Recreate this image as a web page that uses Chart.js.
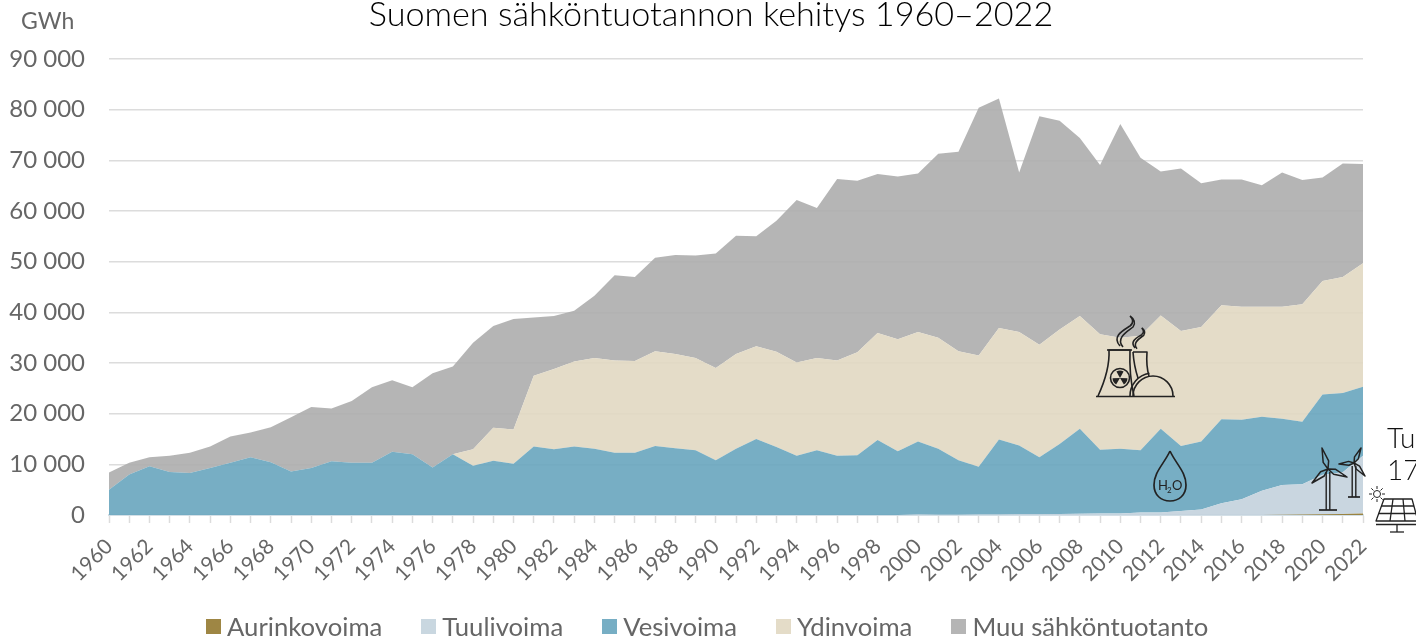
<!DOCTYPE html>
<html lang="fi">
<head>
<meta charset="utf-8">
<title>Suomen sähköntuotannon kehitys 1960–2022</title>
<script src="https://cdn.jsdelivr.net/npm/chart.js@4/dist/chart.umd.min.js"></script>
<style>
  html, body { margin: 0; background: #fff; overflow: hidden; }
  #wrap { position: relative; width: 1416px; height: 637px; }
  #legend { position: absolute; left: 206px; top: 611px; display: flex; gap: 39px;
    font: 400 25.7px Lato, sans-serif; color: #666; line-height: 30px; white-space: nowrap; }
  #legend span { display: flex; align-items: center; gap: 6px; }
  #legend i { display: block; width: 15px; height: 15px; }
</style>
</head>
<body>
<div id="wrap">
  <canvas id="chart" width="1416" height="637"></canvas>
  <div id="legend"></div>
</div>
<script>
const years = [
  1960, 1961, 1962, 1963, 1964, 1965, 1966, 1967, 1968, 1969,
  1970, 1971, 1972, 1973, 1974, 1975, 1976, 1977, 1978, 1979,
  1980, 1981, 1982, 1983, 1984, 1985, 1986, 1987, 1988, 1989,
  1990, 1991, 1992, 1993, 1994, 1995, 1996, 1997, 1998, 1999,
  2000, 2001, 2002, 2003, 2004, 2005, 2006, 2007, 2008, 2009,
  2010, 2011, 2012, 2013, 2014, 2015, 2016, 2017, 2018, 2019,
  2020, 2021, 2022
];

const aurinkovoima = [
  0, 0, 0, 0, 0, 0, 0, 0, 0, 0,
  0, 0, 0, 0, 0, 0, 0, 0, 0, 0,
  0, 0, 0, 0, 0, 0, 0, 0, 0, 0,
  0, 0, 0, 0, 0, 0, 0, 0, 0, 0,
  0, 0, 0, 0, 0, 0, 0, 0, 0, 0,
  0, 0, 0, 0, 0, 0, 0, 0, 30, 80,
  150, 220, 300
];

const tuulivoima = [
  0, 0, 0, 0, 0, 0, 0, 0, 0, 0,
  0, 0, 0, 0, 0, 0, 0, 0, 0, 0,
  0, 0, 0, 0, 0, 0, 0, 0, 0, 0,
  0, 0, 0, 0, 0, 0, 0, 0, 0, 0,
  80, 70, 60, 90, 120, 170, 150, 190, 260, 280,
  290, 480, 490, 770, 1100, 2300, 3100, 4800, 5900, 6000,
  7800, 8200, 11400
];

const vesivoima = [
  5000, 8000, 9600, 8500, 8300, 9300, 10300, 11400, 10400, 8600,
  9300, 10600, 10300, 10300, 12500, 12000, 9400, 12000, 9700, 10700,
  10100, 13500, 13000, 13500, 13100, 12300, 12300, 13600, 13200, 12800,
  10800, 13100, 15000, 13400, 11700, 12800, 11700, 11800, 14800, 12600,
  14420, 13030, 10740, 9410, 14780, 13530, 11250, 13810, 16740, 12620,
  12810, 12320, 16510, 12830, 13400, 16600, 15700, 14600, 13070, 12320,
  15850, 15680, 13600
];

const ydinvoima = [
  0, 0, 0, 0, 0, 0, 0, 0, 0, 0,
  0, 0, 0, 0, 0, 0, 0, 0, 3300, 6500,
  6800, 14000, 15800, 16800, 17900, 18200, 18100, 18700, 18600, 18200,
  18200, 18700, 18300, 18800, 18400, 18200, 18800, 20300, 21100, 22100,
  21600, 21900, 21500, 22000, 22000, 22400, 22200, 22600, 22300, 22800,
  21900, 22600, 22400, 22700, 22600, 22500, 22300, 21700, 22100, 23200,
  22400, 22900, 24400
];

const muuTuotanto = [
  3400, 2300, 1800, 3200, 4000, 4200, 5200, 4900, 6900, 10700,
  12000, 10400, 12200, 14900, 14100, 13200, 18600, 17300, 21000, 20100,
  21800, 11500, 10500, 10000, 12300, 16800, 16600, 18500, 19500, 20200,
  22600, 23300, 21700, 25900, 32100, 29600, 35800, 33900, 31400, 32100,
  31300, 36300, 39400, 48900, 45300, 31500, 45100, 41200, 35100, 33400,
  42200, 35100, 28400, 32100, 28400, 24800, 25100, 24000, 26500, 24500,
  20400, 22400, 19600
];

const seriesNames = ['Aurinkovoima', 'Tuulivoima', 'Vesivoima', 'Ydinvoima', 'Muu sähköntuotanto'];
const seriesValues = [aurinkovoima, tuulivoima, vesivoima, ydinvoima, muuTuotanto];
// fills are slightly see-through so the gridlines show, legend gets the colour as seen on white
const fillColors = ['rgba(147,121,47,.9)', 'rgba(195,210,221,.9)', 'rgba(104,165,190,.9)', 'rgba(225,216,194,.9)', 'rgba(173,173,173,.9)'];
const swatchColors = ['#9e8644', '#c9d7e0', '#77aec4', '#e4dcc8', '#b5b5b5'];

const fontFamily = 'Lato, sans-serif';
const tickColor = '#666';

function line(ctx, points) {
  ctx.beginPath();
  points.forEach((p, i) => i ? ctx.lineTo(p[0], p[1]) : ctx.moveTo(p[0], p[1]));
  ctx.stroke();
}

function drawSteam(ctx, x, y, s) {
  ctx.beginPath();
  ctx.moveTo(x, y);
  ctx.bezierCurveTo(x - 9 * s, y - 10 * s, x + 4 * s, y - 16 * s, x + 10 * s, y - 20 * s);
  ctx.bezierCurveTo(x + 14 * s, y - 23 * s, x + 13 * s, y - 27 * s, x + 10 * s, y - 30 * s);
  ctx.moveTo(x + 3 * s, y + s);
  ctx.bezierCurveTo(x - 5 * s, y - 8 * s, x + 8 * s, y - 15 * s, x + 13 * s, y - 19 * s);
  ctx.bezierCurveTo(x + 16 * s, y - 23 * s, x + 14 * s, y - 27 * s, x + 10 * s, y - 30 * s);
  ctx.stroke();
}

function drawNuclear(ctx) {
  ctx.lineWidth = 1.6;
  line(ctx, [[1096, 396.5], [1175, 396.5]]);
  // big tower
  ctx.beginPath();
  ctx.moveTo(1098, 396);
  ctx.quadraticCurveTo(1110, 370, 1109, 350);
  ctx.lineTo(1130, 350);
  ctx.quadraticCurveTo(1129, 375, 1134, 396);
  ctx.stroke();
  line(ctx, [[1107, 350], [1132, 350]]);
  // small tower
  ctx.beginPath();
  ctx.moveTo(1133, 352);
  ctx.lineTo(1147, 352);
  ctx.quadraticCurveTo(1146, 366, 1149, 376);
  ctx.moveTo(1133, 352);
  ctx.quadraticCurveTo(1134, 366, 1138, 378);
  ctx.stroke();
  // dome
  ctx.beginPath();
  ctx.arc(1153, 396, 20, Math.PI, 0);
  ctx.stroke();
  ctx.beginPath();
  ctx.arc(1153, 396, 23, Math.PI, Math.PI * 1.45);
  ctx.stroke();
  // radiation sign
  ctx.beginPath();
  ctx.arc(1120, 378, 9.5, 0, Math.PI * 2);
  ctx.stroke();
  [-Math.PI / 2, Math.PI / 6, Math.PI * 5 / 6].forEach(a => {
    ctx.beginPath();
    ctx.moveTo(1120, 378);
    ctx.arc(1120, 378, 7.5, a - 0.5, a + 0.5);
    ctx.closePath();
    ctx.fill();
  });
  drawSteam(ctx, 1120, 346, 1);
  drawSteam(ctx, 1135, 348, 0.67);
}

function drawDrop(ctx) {
  ctx.lineWidth = 1.7;
  ctx.beginPath();
  ctx.moveTo(1170, 451);
  ctx.bezierCurveTo(1164, 464, 1154, 472, 1154, 485);
  ctx.bezierCurveTo(1154, 495, 1161, 501, 1170, 501);
  ctx.bezierCurveTo(1179, 501, 1186, 495, 1186, 485);
  ctx.bezierCurveTo(1186, 472, 1176, 464, 1170, 451);
  ctx.stroke();
  ctx.textAlign = 'left';
  ctx.textBaseline = 'alphabetic';
  ctx.font = '400 13px ' + fontFamily;
  ctx.fillText('H', 1158, 490);
  ctx.fillText('O', 1172, 490);
  ctx.font = '400 8px ' + fontFamily;
  ctx.fillText('2', 1167, 493);
}

function drawBlade(ctx, hx, hy, tx, ty) {
  const mx = hx + (tx - hx) * 0.35;
  const my = hy + (ty - hy) * 0.35;
  const nx = -(ty - hy) * 0.13;
  const ny = (tx - hx) * 0.13;
  ctx.beginPath();
  ctx.moveTo(hx, hy);
  ctx.lineTo(mx + nx, my + ny);
  ctx.lineTo(tx, ty);
  ctx.lineTo(mx - nx, my - ny);
  ctx.closePath();
  ctx.stroke();
}

function drawTurbine(ctx, hx, hy, baseY, baseW, tips) {
  ctx.lineWidth = 1.4;
  line(ctx, [[hx - 1.8, hy + 3], [hx - 1.8, baseY]]);
  line(ctx, [[hx + 1.8, hy + 3], [hx + 1.8, baseY]]);
  ctx.lineWidth = 1.7;
  line(ctx, [[hx - baseW, baseY], [hx + baseW, baseY]]);
  ctx.lineWidth = 1.5;
  tips.forEach(t => drawBlade(ctx, hx, hy, t[0], t[1]));
}

function drawSolar(ctx) {
  // sun
  ctx.lineWidth = 1;
  ctx.beginPath();
  ctx.arc(1377, 494, 3.5, 0, Math.PI * 2);
  ctx.stroke();
  for (let i = 0; i < 8; i++) {
    const a = i * Math.PI / 4;
    line(ctx, [[1377 + 5 * Math.cos(a), 494 + 5 * Math.sin(a)], [1377 + 8 * Math.cos(a), 494 + 8 * Math.sin(a)]]);
  }
  // panel
  ctx.lineWidth = 1.3;
  ctx.beginPath();
  ctx.moveTo(1384, 499);
  ctx.lineTo(1412, 499);
  ctx.lineTo(1418, 521);
  ctx.lineTo(1376, 521);
  ctx.closePath();
  ctx.stroke();
  line(ctx, [[1376, 524.5], [1418, 524.5]]);
  line(ctx, [[1381, 506], [1414, 506]]);
  line(ctx, [[1378.5, 513.5], [1416, 513.5]]);
  line(ctx, [[1393, 499], [1390, 521]]);
  line(ctx, [[1403, 499], [1405, 521]]);
  line(ctx, [[1397, 525], [1397, 532]]);
  line(ctx, [[1390, 532], [1404, 532]]);
}

const extraText = {
  id: 'extraText',
  afterDraw(chart) {
    const ctx = chart.ctx;
    ctx.save();
    ctx.textBaseline = 'middle';
    ctx.textAlign = 'left';
    ctx.fillStyle = tickColor;
    ctx.font = '400 23px ' + fontFamily;
    ctx.fillText('GWh', 21, 22);
    ctx.fillStyle = '#111';
    ctx.font = '300 28px ' + fontFamily;
    ctx.fillText('Tu', 1387, 439);
    ctx.fillText('17', 1387, 471);

    ctx.strokeStyle = '#222';
    ctx.fillStyle = '#222';
    ctx.lineJoin = 'round';
    drawNuclear(ctx);
    drawDrop(ctx);
    drawTurbine(ctx, 1328, 469, 510, 9, [[1322, 448], [1347, 477], [1312, 483]]);
    drawTurbine(ctx, 1354, 463, 497, 6, [[1361, 448], [1365, 476], [1339, 464]]);
    drawSolar(ctx);
    ctx.restore();
  }
};

new Chart(document.getElementById('chart'), {
  type: 'line',
  data: {
    labels: years,
    datasets: seriesNames.map((name, i) => ({
      label: name,
      data: seriesValues[i],
      fill: i === 0 ? 'origin' : '-1',
      backgroundColor: fillColors[i],
      borderWidth: 0,
      pointRadius: 0,
      tension: 0
    }))
  },
  options: {
    responsive: false,
    animation: false,
    // left padding moves the centred title over to where it sits in the original
    layout: { padding: { left: 6, right: 0, top: 0, bottom: 0 } },
    plugins: {
      legend: { display: false },
      tooltip: { enabled: false },
      title: {
        display: true,
        text: 'Suomen sähköntuotannon kehitys 1960–2022',
        color: '#000',
        font: { family: fontFamily, size: 34.2, weight: 300, lineHeight: 1.2 },
        padding: { top: -6, bottom: 24 }
      }
    },
    scales: {
      x: {
        stacked: true,
        offset: false,
        afterFit(scale) { scale.height = 122; },
        grid: { drawOnChartArea: false, drawTicks: true, tickLength: 8, tickColor: '#dcdcdc', tickWidth: 1.5 },
        border: { color: '#d3dfe6', width: 2 },
        ticks: {
          autoSkip: false,
          maxRotation: 45,
          minRotation: 45,
          padding: 11,
          color: tickColor,
          font: { family: fontFamily, size: 21, weight: 400 },
          callback(value) {
            const year = this.getLabelForValue(value);
            return year % 2 === 0 ? String(year) : '';
          }
        }
      },
      y: {
        stacked: true,
        min: 0,
        max: 90000,
        afterFit(scale) { scale.width = 103; },
        grid: { color: '#dcdcdc', lineWidth: 1.5, drawTicks: false },
        border: { display: false },
        ticks: {
          stepSize: 10000,
          padding: 24,
          color: tickColor,
          font: { family: fontFamily, size: 24, weight: 400 },
          callback(value) {
            return String(value).replace(/\B(?=(\d{3})+$)/g, ' ');
          }
        }
      },
      // empty axis, keeps the white strip to the right of the plot
      rightGap: {
        position: 'right',
        afterFit(scale) { scale.width = 53; },
        grid: { drawOnChartArea: false, drawTicks: false },
        border: { display: false },
        ticks: { display: false }
      }
    }
  },
  plugins: [extraText]
});

// Legend as real text under the chart
const legendDiv = document.getElementById('legend');
seriesNames.forEach((name, i) => {
  const item = document.createElement('span');
  item.innerHTML = `<i style="background:${swatchColors[i]}"></i>${name}`;
  legendDiv.appendChild(item);
});
</script>
</body>
</html>
